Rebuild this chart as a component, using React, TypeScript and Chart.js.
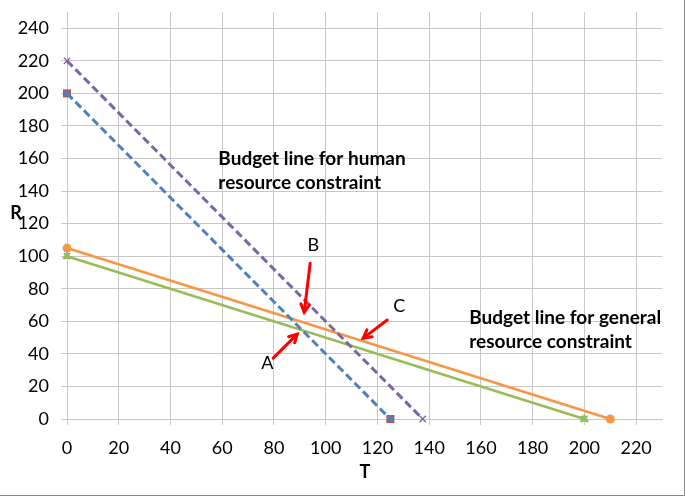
import { useEffect, useRef } from 'react';
import { Chart, registerables } from 'chart.js';
Chart.register(...registerables);

// Budget line for human resource constraint (two variants)
const blueT = [0, 125];
const blueR = [200, 0];
const purpleT = [0, 137.5];
const purpleR = [220, 0];
// Budget line for general resource constraint (two variants)
const greenT = [0, 200];
const greenR = [100, 0];
const orangeT = [0, 210];
const orangeR = [105, 0];

// Tick labels
const tTicks = [0, 20, 40, 60, 80, 100, 120, 140, 160, 180, 200, 220];
const rTicks = [0, 20, 40, 60, 80, 100, 120, 140, 160, 180, 200, 220, 240];

// Annotation labels and arrows in data units (T, R)
const arrowLabels = ['A', 'B', 'C'];
const arrowLabelPos = [[77.4, 34.4], [95.2, 106.8], [128.4, 69.4]];
const arrowFrom = [[79.7, 37.4], [94, 95.7], [123.8, 60.8]];
const arrowTo = [[89, 52.1], [91.7, 65.6], [114.5, 49.7]];

const noteLines = [
  ['Budget line for human', 'resource constraint'],
  ['Budget line for general', 'resource constraint'],
];
const notePos = [[58.5, 160], [155.5, 62]];

const FONT = 'Lato, "Open Sans", sans-serif';

const pts = (xs: number[], ys: number[]) => xs.map((x, i) => ({ x, y: ys[i] }));

const overlay = {
  id: 'overlay',
  afterDatasetsDraw(chart: any) {
    const { ctx } = chart;
    const xs = chart.scales.x;
    const ys = chart.scales.y;
    ctx.save();
    ctx.strokeStyle = '#FF0000';
    ctx.lineWidth = 3;
    ctx.lineCap = 'round';
    ctx.lineJoin = 'miter';
    arrowFrom.forEach((f, i) => {
      const x1 = xs.getPixelForValue(f[0]);
      const y1 = ys.getPixelForValue(f[1]);
      const x2 = xs.getPixelForValue(arrowTo[i][0]);
      const y2 = ys.getPixelForValue(arrowTo[i][1]);
      const ang = Math.atan2(y2 - y1, x2 - x1);
      ctx.beginPath();
      ctx.moveTo(x1, y1);
      ctx.lineTo(x2, y2);
      ctx.stroke();
      const h = 9;
      ctx.beginPath();
      ctx.moveTo(x2 - h * Math.cos(ang - 0.5), y2 - h * Math.sin(ang - 0.5));
      ctx.lineTo(x2, y2);
      ctx.lineTo(x2 - h * Math.cos(ang + 0.5), y2 - h * Math.sin(ang + 0.5));
      ctx.stroke();
    });
    ctx.fillStyle = '#000';
    ctx.textAlign = 'center';
    ctx.textBaseline = 'middle';
    ctx.font = `18px ${FONT}`;
    arrowLabels.forEach((l, i) => {
      ctx.fillText(l, xs.getPixelForValue(arrowLabelPos[i][0]), ys.getPixelForValue(arrowLabelPos[i][1]));
    });
    ctx.font = `bold 19px ${FONT}`;
    ctx.textAlign = 'left';
    noteLines.forEach((lines, i) => {
      const x0 = xs.getPixelForValue(notePos[i][0]);
      const y0 = ys.getPixelForValue(notePos[i][1]);
      lines.forEach((t, j) => ctx.fillText(t, x0, y0 + j * 24));
    });
    ctx.font = `bold 18px ${FONT}`;
    ctx.textAlign = 'center';
    ctx.fillText('R', 16, 213);
    ctx.fillText('T', 365, 472);
    ctx.strokeStyle = '#8A8A8A';
    ctx.lineWidth = 1;
    ctx.beginPath();
    ctx.moveTo(684.5, 0);
    ctx.lineTo(684.5, 495.5);
    ctx.lineTo(0, 495.5);
    ctx.stroke();
    ctx.restore();
  },
};

export default function App() {
  const ref = useRef<HTMLCanvasElement>(null);
  useEffect(() => {
    const grid = '#C8C8C8';
    const tickFont = { family: FONT, size: 18 };
    const chart = new Chart(ref.current!, {
      type: 'scatter',
      data: {
        datasets: [
          {
            data: pts(blueT, blueR), showLine: true, borderColor: '#4F81BD', backgroundColor: '#4F81BD',
            borderWidth: 3, borderDash: [8, 4], pointStyle: 'circle', pointRadius: 3, pointBorderWidth: 0, order: 1, clip: false,
          },
          {
            data: pts(blueT, blueR), showLine: false, borderColor: '#C0504D', backgroundColor: '#C0504D',
            pointStyle: 'rect', pointRadius: 5.7, pointBorderWidth: 0, order: 2, clip: false,
          },
          {
            data: pts(purpleT, purpleR), showLine: true, borderColor: '#8064A2', backgroundColor: '#8064A2',
            borderWidth: 3, borderDash: [8, 4], pointStyle: 'crossRot', pointRadius: 4.5, pointBorderWidth: 1.3, order: 1, clip: false,
          },
          {
            data: pts(greenT, greenR), showLine: true, borderColor: '#9BBB59', backgroundColor: '#9BBB59',
            borderWidth: 2.5, pointStyle: 'triangle', pointRadius: 5.5, pointBorderWidth: 0, order: 1, clip: false,
          },
          {
            data: pts(greenT, greenR), showLine: false, borderColor: '#4BACC6', backgroundColor: '#4BACC6',
            pointStyle: 'crossRot', pointRadius: 4.5, pointBorderWidth: 1.3, order: 2, clip: false,
          },
          {
            data: pts(orangeT, orangeR), showLine: true, borderColor: '#F79646', backgroundColor: '#F79646',
            borderWidth: 2.5, pointStyle: 'circle', pointRadius: 4.5, pointBorderWidth: 0, order: 1, clip: false,
          },
        ],
      },
      options: {
        responsive: false,
        animation: false,
        layout: { padding: { top: 12, right: 23, left: 0, bottom: 0 } },
        plugins: { legend: { display: false }, tooltip: { enabled: false } },
        scales: {
          x: {
            type: 'linear', min: 0, max: 230,
            afterBuildTicks: (s: any) => { s.ticks = tTicks.map((v) => ({ value: v })); },
            afterFit: (s: any) => { s.height = 78; s.paddingLeft = 0; s.paddingRight = 0; },
            ticks: { font: tickFont, color: '#000', padding: 12, maxRotation: 0, autoSkip: false },
            grid: { color: grid, tickLength: 6 },
            border: { color: grid },
          },
          y: {
            type: 'linear', min: 0, max: 250,
            afterBuildTicks: (s: any) => { s.ticks = rTicks.map((v) => ({ value: v })); },
            afterFit: (s: any) => { s.width = 67; s.paddingTop = 0; s.paddingBottom = 0; },
            ticks: { font: tickFont, color: '#000', padding: 12, autoSkip: false },
            grid: { color: grid, tickLength: 6 },
            border: { color: grid },
          },
        },
      },
      plugins: [overlay],
    } as any);
    return () => chart.destroy();
  }, []);
  return (
    <div style={{ position: 'fixed', left: 0, top: 0, width: 685, height: 497, background: '#fff' }}>
      <canvas ref={ref} width={685} height={497} style={{ display: 'block' }} />
    </div>
  );
}
